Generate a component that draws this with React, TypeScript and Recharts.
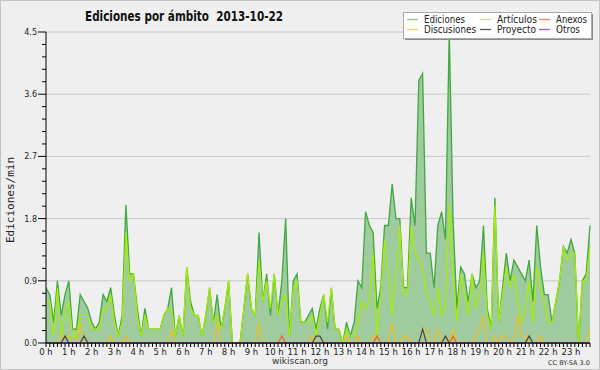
import React from "react";
import { ComposedChart, Area, Line, XAxis, YAxis, CartesianGrid } from "recharts";

// 10-minute bins, 144 per day (edits per minute)
const ediciones = [
  0.8, 0.7, 0.3, 0.9, 0.4, 0.7,
  0.9, 0.2, 0.2, 0.7, 0.6, 0.5,
  0.3, 0.2, 0.3, 0.7, 0.6, 0.8,
  0.4, 0.1, 0.4, 2.0, 1.0, 1.0,
  0.5, 0.1, 0.5, 0.2, 0.2, 0.2,
  0.2, 0.4, 0.5, 0.8, 0.1, 0.4,
  0.1, 1.1, 0.6, 0.4, 0.4, 0.1,
  0.4, 0.8, 0.3, 0.7, 0.2, 0.5,
  0.9, 0.0, 0.0, 0.0, 0.5, 1.0,
  0.5, 0.4, 1.6, 0.6, 1.0, 0.4,
  1.0, 0.4, 0.9, 1.8, 0.1, 0.9,
  1.0, 0.3, 0.3, 0.4, 0.5, 0.2,
  0.5, 0.7, 0.2, 0.8, 0.2, 0.2,
  0.0, 0.3, 0.1, 0.3, 0.9, 0.8,
  1.9, 1.7, 1.6, 0.5, 0.8, 1.7,
  1.7, 2.3, 1.8, 1.8, 0.8, 0.8,
  2.1, 1.7, 3.8, 3.9, 1.3, 1.3,
  0.8, 1.7, 1.9, 1.5, 4.5, 1.8,
  0.5, 1.1, 1.0, 0.6, 1.0, 0.8,
  0.9, 1.7, 0.5, 0.2, 2.1, 0.3,
  0.8, 1.3, 0.9, 1.2, 1.1, 1.0,
  0.9, 1.2, 0.6, 1.7, 1.1, 0.7,
  0.7, 0.3, 0.6, 0.9, 1.4, 1.3,
  1.5, 1.3, 0.0, 0.9, 1.0, 1.7,
];

const articulos = [
  0.6, 0.6, 0.1, 0.8, 0.1, 0.4,
  0.6, 0.1, 0.1, 0.4, 0.4, 0.4,
  0.2, 0.2, 0.2, 0.5, 0.5, 0.7,
  0.3, 0.1, 0.3, 1.6, 0.9, 1.0,
  0.4, 0.1, 0.4, 0.2, 0.2, 0.2,
  0.2, 0.4, 0.5, 0.5, 0.1, 0.4,
  0.1, 1.1, 0.5, 0.4, 0.4, 0.1,
  0.4, 0.8, 0.3, 0.4, 0.2, 0.5,
  0.9, 0.0, 0.0, 0.0, 0.5, 1.0,
  0.5, 0.4, 1.2, 0.6, 0.9, 0.5,
  1.0, 0.4, 0.6, 0.7, 0.1, 0.8,
  0.9, 0.3, 0.3, 0.3, 0.4, 0.1,
  0.4, 0.7, 0.3, 0.8, 0.2, 0.2,
  0.0, 0.2, 0.1, 0.1, 0.3, 0.6,
  0.5, 0.6, 1.3, 0.1, 0.7, 1.5,
  1.0, 0.4, 1.0, 1.7, 0.7, 0.7,
  1.7, 1.3, 1.2, 1.1, 0.7, 0.6,
  0.4, 0.8, 0.4, 0.5, 2.0, 1.0,
  0.3, 1.0, 0.7, 0.4, 1.0, 0.5,
  0.7, 1.3, 0.4, 0.2, 2.0, 0.3,
  0.7, 1.1, 0.8, 1.0, 0.6, 0.3,
  0.5, 0.9, 0.3, 1.1, 0.8, 0.6,
  0.3, 0.3, 0.6, 0.9, 1.4, 1.2,
  1.3, 1.3, 0.0, 0.9, 0.9, 1.4,
];

const discusiones = [
  0, 0, 0, 0, 0.1, 0.1,
  0.1, 0, 0, 0.3, 0, 0,
  0, 0, 0, 0, 0, 0.1,
  0, 0, 0, 0.1, 0, 0,
  0, 0, 0, 0, 0, 0,
  0, 0, 0, 0.2, 0, 0,
  0, 0, 0, 0, 0, 0,
  0, 0, 0, 0.3, 0, 0,
  0, 0, 0, 0, 0, 0,
  0, 0, 0.3, 0, 0, 0,
  0, 0, 0, 0, 0, 0,
  0, 0, 0, 0, 0.1, 0,
  0, 0, 0, 0, 0, 0,
  0, 0.1, 0, 0, 0.1, 0,
  0, 0, 0.1, 0.1, 0, 0,
  0, 0.3, 0, 0, 0.1, 0.1,
  0, 0, 0, 0.2, 0.2, 0,
  0, 0.2, 0, 0.1, 0, 0.2,
  0, 0, 0, 0, 0, 0.1,
  0.2, 0.4, 0, 0, 0.1, 0,
  0.1, 0.1, 0, 0, 0.4, 0.1,
  0.1, 0, 0, 0, 0.1, 0,
  0, 0, 0, 0, 0, 0,
  0, 0, 0, 0, 0, 0.2,
];

const anexos = [
  0, 0, 0, 0, 0, 0,
  0, 0, 0, 0, 0, 0,
  0, 0, 0, 0, 0, 0,
  0, 0, 0, 0, 0, 0,
  0, 0, 0, 0, 0, 0,
  0, 0, 0, 0, 0, 0,
  0, 0, 0, 0, 0, 0,
  0, 0, 0, 0, 0, 0,
  0, 0, 0, 0, 0, 0,
  0, 0, 0, 0, 0, 0,
  0, 0, 0.1, 0, 0, 0,
  0, 0, 0, 0, 0, 0,
  0, 0, 0, 0, 0, 0,
  0, 0, 0, 0, 0, 0,
  0, 0, 0, 0.1, 0, 0,
  0, 0, 0, 0, 0, 0,
  0, 0, 0, 0, 0, 0,
  0, 0, 0, 0, 0, 0.1,
  0, 0, 0, 0, 0, 0,
  0, 0, 0, 0, 0, 0,
  0, 0, 0, 0, 0, 0,
  0, 0, 0, 0, 0, 0,
  0, 0, 0, 0, 0, 0,
  0, 0, 0, 0, 0, 0,
];

const proyecto = [
  0, 0, 0, 0, 0, 0.1,
  0, 0, 0, 0, 0.1, 0,
  0, 0, 0, 0, 0, 0,
  0, 0, 0, 0, 0, 0,
  0, 0, 0, 0, 0, 0,
  0, 0, 0, 0, 0, 0,
  0, 0, 0, 0, 0, 0,
  0, 0, 0, 0, 0, 0,
  0, 0, 0, 0, 0, 0,
  0, 0, 0, 0, 0, 0,
  0, 0, 0, 0, 0, 0,
  0, 0, 0, 0, 0, 0.1,
  0.1, 0, 0, 0, 0, 0,
  0, 0, 0, 0, 0, 0,
  0, 0, 0, 0, 0, 0,
  0, 0, 0, 0, 0, 0,
  0, 0, 0, 0.2, 0, 0,
  0, 0, 0, 0.1, 0, 0,
  0, 0, 0, 0, 0, 0,
  0, 0, 0, 0, 0, 0,
  0, 0, 0, 0, 0, 0,
  0, 0.1, 0, 0, 0, 0,
  0, 0, 0, 0, 0, 0,
  0, 0, 0, 0, 0, 0,
];

const otros = ediciones.map(() => 0);

const hourLabels = [
  "0 h", "1 h", "2 h", "3 h", "4 h", "5 h", "6 h", "7 h", "8 h", "9 h", "10 h", "11 h",
  "12 h", "13 h", "14 h", "15 h", "16 h", "17 h", "18 h", "19 h", "20 h", "21 h", "22 h", "23 h",
];
const binsPerHour = 6;

const yTicks = [
  0, 0.18, 0.36, 0.54, 0.72, 0.9, 1.08, 1.26, 1.44, 1.62, 1.8, 1.98, 2.16, 2.34, 2.52,
  2.7, 2.88, 3.06, 3.24, 3.42, 3.6, 3.78, 3.96, 4.14, 4.32, 4.5,
];
const yMajor = [0, 0.9, 1.8, 2.7, 3.6, 4.5];
const gridValues = [0.9, 1.8, 2.7, 3.6, 4.5];

const legendItems = [
  { name: "Ediciones", color: "#7fd07f", col: 0, row: 0, w: 41 },
  { name: "Artículos", color: "#c8f03c", col: 1, row: 0, w: 40 },
  { name: "Anexos", color: "#ff8350", col: 2, row: 0, w: 31 },
  { name: "Discusiones", color: "#ffd23c", col: 0, row: 1, w: 52 },
  { name: "Proyecto", color: "#555555", col: 1, row: 1, w: 39 },
  { name: "Otros", color: "#a050ff", col: 2, row: 1, w: 24 },
];

const data = ediciones.map((v, i) => ({
  i,
  ediciones: v,
  articulos: articulos[i],
  discusiones: discusiones[i],
  anexos: anexos[i],
  proyecto: proyecto[i],
  otros: otros[i],
}));
const xTicks = data.map((d) => d.i);

const FONT = "'DejaVu Sans', sans-serif";

const XTick = (props: any) => {
  const { x, y, payload } = props;
  const v = payload.value as number;
  const isHour = v % binsPerHour === 0;
  return (
    <g>
      <line x1={x} y1={y} x2={x} y2={y + 4} stroke="#000" strokeWidth={1} />
      {isHour && (
        <text x={x} y={y + 12} textAnchor="middle" fontSize={8.5} fontFamily={FONT} fill="#222">
          {hourLabels[v / binsPerHour]}
        </text>
      )}
    </g>
  );
};

const YTick = (props: any) => {
  const { x, y, payload } = props;
  const v = payload.value as number;
  const major = yMajor.some((m) => Math.abs(m - v) < 1e-6);
  return (
    <g>
      <line x1={x - (major ? 8 : 4)} y1={y} x2={x} y2={y} stroke="#000" strokeWidth={1} />
      {major && (
        <text x={x - 9} y={y + 3} textAnchor="end" fontSize={8} fontFamily={FONT} fill="#222">
          {v.toFixed(1)}
        </text>
      )}
    </g>
  );
};

export default function App() {
  const colX = [407, 480, 539];
  const rowY = [19.5, 29.5];
  return (
    <div
      style={{
        position: "absolute",
        left: 0,
        top: 0,
        width: 600,
        height: 370,
        background: "#efefef",
        boxSizing: "border-box",
      }}
    >
      <ComposedChart
        width={600}
        height={370}
        data={data}
        margin={{ top: 32, right: 10, left: 0, bottom: 0 }}
      >
        <CartesianGrid vertical={false} horizontalValues={gridValues} stroke="#c8c8c8" />
        <XAxis
          dataKey="i"
          type="number"
          domain={[0, 143]}
          ticks={xTicks}
          interval={0}
          tick={<XTick />}
          tickLine={false}
          tickSize={0}
          tickMargin={0}
          height={27}
          axisLine={{ stroke: "#000" }}
        />
        <YAxis
          type="number"
          domain={[0, 4.5]}
          ticks={yTicks}
          interval={0}
          tick={<YTick />}
          tickLine={false}
          tickSize={0}
          tickMargin={0}
          width={46}
          axisLine={{ stroke: "#000" }}
        />
        <Area
          type="linear"
          dataKey="ediciones"
          stroke="#3fa83f"
          strokeWidth={1.3}
          fill="#9fcb9f"
          fillOpacity={1}
          isAnimationActive={false}
          dot={false}
          activeDot={false}
        />
        <Line type="linear" dataKey="articulos" stroke="#a6ee00" strokeWidth={1.2} dot={false} activeDot={false} isAnimationActive={false} />
        <Line type="linear" dataKey="discusiones" stroke="#efc020" strokeWidth={1.2} dot={false} activeDot={false} isAnimationActive={false} />
        <Line type="linear" dataKey="anexos" stroke="#f0642a" strokeWidth={1.2} dot={false} activeDot={false} isAnimationActive={false} />
        <Line type="linear" dataKey="proyecto" stroke="#444444" strokeWidth={1.2} dot={false} activeDot={false} isAnimationActive={false} />
        <Line type="linear" dataKey="otros" stroke="#9b30ff" strokeWidth={1.2} dot={false} activeDot={false} isAnimationActive={false} />
      </ComposedChart>
      <svg
        width={600}
        height={370}
        style={{ position: "absolute", left: 0, top: 0, pointerEvents: "none" }}
      >
        <rect x={0.5} y={0.5} width={599} height={369} fill="none" stroke="#c4c4c4" />
        <text
          x={184}
          y={20.5}
          textAnchor="middle"
          fontSize={13.5}
          fontWeight="bold"
          fontFamily={FONT}
          fill="#111"
          textLength={198}
          lengthAdjust="spacingAndGlyphs"
          style={{ whiteSpace: "pre" }}
        >
          {"Ediciones por ámbito  2013-10-22"}
        </text>
        <rect x={405} y={14} width={188} height={26} fill="#8a8a8a" />
        <rect x={403.5} y={12.5} width={188} height={26} fill="#fff" stroke="#aaa" />
        {legendItems.map((it) => (
          <g key={it.name}>
            <line
              x1={colX[it.col]}
              x2={colX[it.col] + 11}
              y1={rowY[it.row]}
              y2={rowY[it.row]}
              stroke={it.color}
              strokeWidth={1.3}
            />
            <text
              x={colX[it.col] + 17}
              y={rowY[it.row] + 3.6}
              fontSize={10}
              fontFamily={FONT}
              fill="#222"
              textLength={it.w}
              lengthAdjust="spacingAndGlyphs"
            >
              {it.name}
            </text>
          </g>
        ))}
        <text
          transform="translate(14, 200) rotate(-90)"
          textAnchor="middle"
          fontSize={11}
          fontFamily="'DejaVu Sans Mono', monospace"
          fill="#222"
        >
          Ediciones/min
        </text>
        <text x={300} y={364} textAnchor="middle" fontSize={9} fontFamily={FONT} fill="#333">
          wikiscan.org
        </text>
        <text x={569} y={365} textAnchor="middle" fontSize={6.5} fontFamily={FONT} fill="#333">
          CC BY-SA 3.0
        </text>
      </svg>
    </div>
  );
}
